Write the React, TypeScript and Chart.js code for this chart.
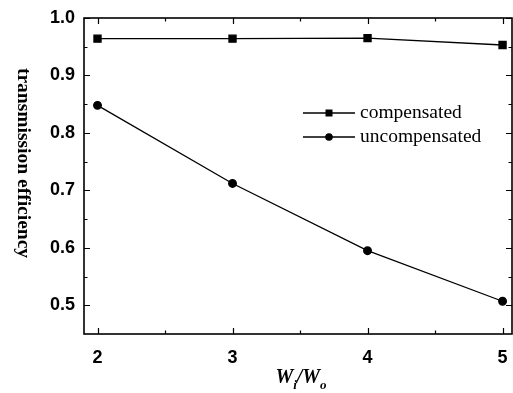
import React, { useEffect, useRef } from "react";
import { Chart, registerables } from "chart.js";

Chart.register(...registerables);

const xValues = [2, 3, 4, 5];
const compensated = [0.964, 0.964, 0.965, 0.953];
const uncompensated = [0.848, 0.712, 0.595, 0.507];
const xMajorTicks = [2, 3, 4, 5];
const xMinorTicks = [2.5, 3.5, 4.5];
const yMajorTicks = [0.5, 0.6, 0.7, 0.8, 0.9, 1.0];
const yMinorTicks = [0.55, 0.65, 0.75, 0.85, 0.95];
const seriesNames = ["compensated", "uncompensated"];
const yTitle = "transmission efficiency";

const framePlugin = {
  id: "framePlugin",
  afterDraw(chart: any) {
    const ctx = chart.ctx;
    const { left, right, top, bottom } = chart.chartArea;
    const xs = chart.scales.x;
    const ys = chart.scales.y;
    ctx.save();
    ctx.strokeStyle = "#000";
    ctx.lineWidth = 1.6;
    ctx.strokeRect(left, top, right - left, bottom - top);
    ctx.lineWidth = 1.2;
    ctx.beginPath();
    const tick = (vals: number[], len: number) => {
      for (const v of vals) {
        const px = Math.round(xs.getPixelForValue(v)) + 0.5;
        ctx.moveTo(px, bottom);
        ctx.lineTo(px, bottom - len);
        ctx.moveTo(px, top);
        ctx.lineTo(px, top + len);
      }
    };
    const ytick = (vals: number[], len: number) => {
      for (const v of vals) {
        const py = Math.round(ys.getPixelForValue(v)) + 0.5;
        ctx.moveTo(left, py);
        ctx.lineTo(left + len, py);
        ctx.moveTo(right, py);
        ctx.lineTo(right - len, py);
      }
    };
    tick(xMajorTicks, 6);
    tick(xMinorTicks, 3.5);
    ytick(yMajorTicks, 6);
    ytick(yMinorTicks, 3.5);
    ctx.stroke();

    // legend
    const legendX = 303;
    const rows = [113, 137];
    chart.data.datasets.forEach((ds: any, i: number) => {
      const y = rows[i];
      ctx.lineWidth = 1.3;
      ctx.strokeStyle = "#000";
      ctx.beginPath();
      ctx.moveTo(legendX, y);
      ctx.lineTo(legendX + 52, y);
      ctx.stroke();
      ctx.fillStyle = "#000";
      if (ds.pointStyle === "rect") {
        ctx.fillRect(legendX + 26 - 3.5, y - 3.5, 7, 7);
      } else {
        ctx.beginPath();
        ctx.arc(legendX + 26, y, 3.8, 0, Math.PI * 2);
        ctx.fill();
      }
      ctx.font = "19.5px 'Liberation Serif', serif";
      ctx.textBaseline = "middle";
      ctx.textAlign = "left";
      ctx.fillText(ds.label, legendX + 57, y);
    });

    // y title rotated clockwise
    ctx.save();
    ctx.translate(23, (top + bottom) / 2 - 13);
    ctx.rotate(Math.PI / 2);
    ctx.font = "bold 19.5px 'Liberation Serif', serif";
    ctx.textAlign = "center";
    ctx.textBaseline = "middle";
    ctx.fillText(yTitle, 0, 0);
    ctx.restore();

    // x title W_i/W_o
    const big = "italic bold 20px 'Liberation Serif', serif";
    const small = "italic bold 13px 'Liberation Serif', serif";
    const parts: [string, string, number][] = [
      ["W", big, 0],
      ["i", small, 6],
      ["/W", big, 0],
      ["o", small, 6],
    ];
    let total = 0;
    for (const [t, f] of parts) {
      ctx.font = f;
      total += ctx.measureText(t).width;
    }
    let cx = 301 - total / 2;
    const baseY = 383;
    ctx.textAlign = "left";
    ctx.textBaseline = "alphabetic";
    for (const [t, f, dy] of parts) {
      ctx.font = f;
      ctx.fillText(t, cx, baseY + dy);
      cx += ctx.measureText(t).width;
    }
    ctx.restore();
  },
};

export default function App() {
  const ref = useRef<HTMLCanvasElement>(null);
  useEffect(() => {
    if (!ref.current) return;
    const chart = new Chart(ref.current, {
      type: "line",
      data: {
        datasets: [
          {
            label: seriesNames[0],
            data: xValues.map((x, i) => ({ x, y: compensated[i] })),
            borderColor: "#000",
            backgroundColor: "#000",
            borderWidth: 1.3,
            pointStyle: "rect",
            pointRadius: 5,
          },
          {
            label: seriesNames[1],
            data: xValues.map((x, i) => ({ x, y: uncompensated[i] })),
            borderColor: "#000",
            backgroundColor: "#000",
            borderWidth: 1.3,
            pointStyle: "circle",
            pointRadius: 3.8,
          },
        ],
      },
      options: {
        responsive: false,
        animation: false,
        layout: { autoPadding: false, padding: { top: 18, right: 1, left: 0, bottom: 0 } },
        plugins: { legend: { display: false }, tooltip: { enabled: false } },
        scales: {
          x: {
            type: "linear",
            min: 1.9,
            max: 5.07,
            grid: { display: false, drawTicks: false },
            border: { display: false },
            afterBuildTicks: (s: any) => {
              s.ticks = xMajorTicks.map((v) => ({ value: v }));
            },
            afterFit: (s: any) => {
              s.height = 59;
              s.paddingLeft = 0;
              s.paddingRight = 0;
            },
            ticks: {
              padding: 13,
              color: "#000",
              font: { family: "'Liberation Sans', Arial, sans-serif", size: 18, weight: "bold" },
              callback: (v: any) => String(v),
            },
          },
          y: {
            type: "linear",
            min: 0.45,
            max: 1.0,
            grid: { display: false, drawTicks: false },
            border: { display: false },
            afterBuildTicks: (s: any) => {
              s.ticks = yMajorTicks.map((v) => ({ value: v }));
            },
            afterFit: (s: any) => {
              s.width = 84;
              s.paddingTop = 0;
              s.paddingBottom = 0;
            },
            ticks: {
              padding: 9,
              color: "#000",
              font: { family: "'Liberation Sans', Arial, sans-serif", size: 18, weight: "bold" },
              callback: (v: any) => Number(v).toFixed(1),
            },
          },
        },
      },
      plugins: [framePlugin],
    } as any);
    return () => chart.destroy();
  }, []);
  return (
    <div style={{ position: "fixed", left: 0, top: 0, width: 513, height: 393, background: "#fff" }}>
      <canvas ref={ref} width={513} height={393} style={{ width: 513, height: 393 }} />
    </div>
  );
}
